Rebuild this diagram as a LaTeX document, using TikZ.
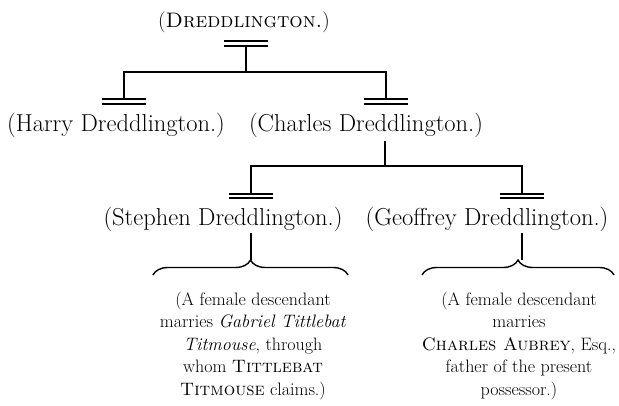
\documentclass[tikz,border=0pt]{standalone}
\usepackage{fontspec}
\usepackage{tikz}
\usetikzlibrary{decorations.pathreplacing}

\tikzset{
	person/.style={font=\fontsize{24.5}{28}\selectfont, inner sep=0pt},
	note/.style={font=\fontsize{18}{22.5}\selectfont, align=center, inner sep=0pt},
	wed/.style={minimum width=43pt, minimum height=6pt, inner sep=0pt},
	dbl/.style={line width=2pt, double, double distance=2.3pt},
	line/.style={line width=1.9pt},
	curly/.style={line width=1.4pt, decorate, decoration={brace, amplitude=15pt}}
}

\begin{document}
\begin{tikzpicture}[x=1pt, y=-1pt]
								\useasboundingbox (0,0) rectangle (619,406);
								\node[person, font=\fontsize{21}{25}\selectfont] (dred) at (244,22) {(\textsc{Dreddlington.})};
								\node[person] (harry) at (116,125.5) {(Harry Dreddlington.)};
								\node[person] (charles) at (366,125.5) {(Charles Dreddlington.)};
								\node[person] (stephen) at (223,219) {(Stephen Dreddlington.)};
								\node[person] (geoffrey) at (487,219) {(Geoffrey Dreddlington.)};
								\node[wed] (w0) at (246,43.5) {};
								\node[wed] (w1) at (124,101.5) {};
								\node[wed] (w2) at (386,101.5) {};
								\node[wed] (w3) at (251,196) {};
								\node[wed] (w4) at (522,196) {};
								\coordinate (j0) at (246,72);
								\coordinate (j1) at (385,166);
								\coordinate (b1l) at (153,275);
								\coordinate (b1r) at (348,275);
								\coordinate (b2l) at (422,275);
								\coordinate (b2r) at (614,275);
								\coordinate (t1) at (251,260);
								\coordinate (t2) at (522,260);
								\node[note] (n1) at (253,346) {(A female descendant\\
									marries \textit{Gabriel Tittlebat}\\
									\textit{Titmouse}, through\\
									whom \textsc{Tittlebat}\\
									\textsc{Titmouse} claims.)};
								\node[note] (n2) at (519,346) {(A female descendant\\
									marries\\
									\textsc{Charles Aubrey}, Esq.,\\
									father of the present\\
									possessor.)};
								\foreach \i in {0,...,4}
									\draw[dbl] (w\i.west) -- (w\i.east);
								\draw[line] (w0.south) -- (j0);
								\draw[line] (w1.north) |- (j0) -| (w2.north);
								\draw[line] (j1 |- charles.south) ++(0,3) -- (j1);
								\draw[line] (w3.north) |- (j1) -| (w4.north);
								\draw[curly] (b1l) -- (b1r);
								\draw[curly] (b2l) -- (b2r);
								\draw[line] (t1 |- stephen.south) ++(0,2) -- (t1);
								\draw[line] (t2 |- geoffrey.south) ++(0,2) -- (t2);
\end{tikzpicture}
\end{document}
